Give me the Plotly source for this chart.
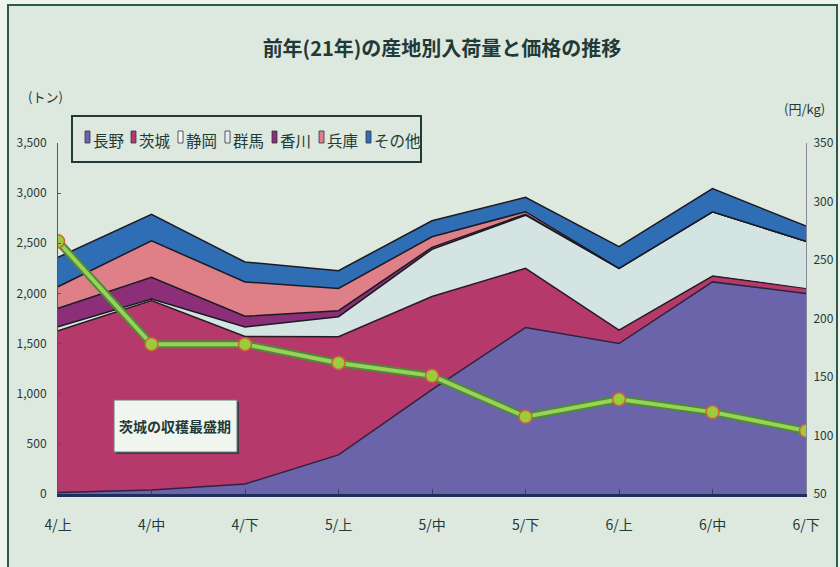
import plotly.graph_objects as go

categories = ["4/上", "4/中", "4/下", "5/上", "5/中", "5/下", "6/上", "6/中", "6/下"]
nagano   = [15, 40, 100, 390, 1040, 1660, 1500, 2115, 2000]
ibaraki  = [1613, 1890, 1470, 1178, 930, 590, 135, 58, 51]
shizuoka = [40, 15, 60, 80, 90, 60, 30, 20, 10]
gunma    = [0, 0, 35, 120, 380, 470, 585, 620, 460]
kagawa   = [183, 215, 107, 60, 20, 10, 0, 0, 0]
hyogo    = [216, 365, 342, 222, 105, 25, 0, 0, 0]
others   = [293, 263, 199, 177, 160, 143, 216, 233, 150]
price    = [266, 178, 178, 162, 151, 116, 131, 120, 104]

left_ticks = [0, 500, 1000, 1500, 2000, 2500, 3000, 3500]
left_ticktext = ["0", "500", "1,000", "1,500", "2,000", "2,500", "3,000", "3,500"]
right_ticks = [50, 100, 150, 200, 250, 300, 350]

BG = "#dde8df"
OUTER = "#eef3ee"
INK = "#1f3a37"
CJK = "Noto Sans CJK JP, sans-serif"
FONT = "Liberation Sans Narrow, Noto Sans CJK JP, sans-serif"
PALE = "#d3e4e2"

# name, values, fill colour, top-edge line colour, legend icon colour
series = [
    ("長野", nagano, "#6b64aa", "#2a2440", "#6b64aa"),
    ("茨城", ibaraki, "#b53a6b", "#2a1a22", "#b53a6b"),
    ("静岡", shizuoka, PALE, PALE, "#f4f7f4"),
    ("群馬", gunma, PALE, "#1a1a22", "#e6efee"),
    ("香川", kagawa, "#8c2f78", "#1a1a22", "#8c2f78"),
    ("兵庫", hyogo, "#df8088", "#1a1a22", "#df8088"),
    ("その他", others, "#2f6db5", "#1a1a22", "#2f6db5"),
]

fig = go.Figure()
for name, vals, fill, lc, _ in series:
    fig.add_trace(go.Scatter(
        x=categories, y=vals, name=name, mode="lines",
        stackgroup="one", fillcolor=fill,
        line=dict(color=lc, width=1.5), showlegend=False,
    ))

# price line (two layers for outlined look)
fig.add_trace(go.Scatter(
    x=categories, y=price, yaxis="y2", mode="lines",
    line=dict(color="#4f8a34", width=8), showlegend=False, hoverinfo="skip",
))
fig.add_trace(go.Scatter(
    x=categories, y=price, yaxis="y2", mode="lines+markers",
    line=dict(color="#98d25a", width=4),
    marker=dict(size=13, color="#9ccb3e", line=dict(color="#d0603a", width=1.5)),
    showlegend=False, name="価格",
))

W, H = 840, 567
L, R, T, B = 58, 34, 143, 73
pw, ph = W - L - R, H - T - B

def px_x(px):
    return (px - L) / pw

def px_y(py):
    return (H - B - py) / ph

annotations = [
    dict(text="(トン)", x=px_x(45), y=px_y(96), xref="paper", yref="paper",
         xanchor="center", yanchor="middle",
         showarrow=False, font=dict(size=13, color=INK, family=CJK)),
    dict(text="(円/kg)", x=px_x(804), y=px_y(108), xref="paper", yref="paper",
         xanchor="center", yanchor="middle",
         showarrow=False, font=dict(size=13, color=INK, family=CJK)),
    dict(text="<b>茨城の収穫最盛期</b>", x=px_x(175), y=px_y(426), xref="paper", yref="paper",
         xanchor="center", yanchor="middle",
         showarrow=False, font=dict(size=14, color=INK, family=CJK)),
]

shapes = [
    # outer frame
    dict(type="rect", xref="paper", yref="paper",
         x0=px_x(8), x1=px_x(837), y0=px_y(580), y1=px_y(5),
         line=dict(color="#2f5a4a", width=2), fillcolor=BG, layer="below"),
    # legend box
    dict(type="rect", xref="paper", yref="paper",
         x0=px_x(72), x1=px_x(421), y0=px_y(162), y1=px_y(116),
         line=dict(color=INK, width=2), fillcolor=BG, layer="above"),
    # annotation box shadow + box
    dict(type="rect", xref="paper", yref="paper",
         x0=px_x(116), x1=px_x(239), y0=px_y(454), y1=px_y(402),
         line=dict(width=0), fillcolor="#3a3a44", layer="above"),
    dict(type="rect", xref="paper", yref="paper",
         x0=px_x(114), x1=px_x(237), y0=px_y(452), y1=px_y(400),
         line=dict(color="#6a7a78", width=1), fillcolor="#f1f5ef", layer="above"),
]

icon_x = [85, 131, 178, 225, 272, 319, 366]
for (name, _, _, _, icol), ix in zip(series, icon_x):
    shapes.append(dict(type="rect", xref="paper", yref="paper",
                       x0=px_x(ix), x1=px_x(ix + 5), y0=px_y(143), y1=px_y(131),
                       line=dict(color="#334", width=0.8), fillcolor=icol, layer="above"))
    annotations.append(dict(text=name, x=px_x(ix + 6), y=px_y(140), xref="paper", yref="paper",
                            xanchor="left", yanchor="middle", showarrow=False,
                            font=dict(size=15.5, color=INK, family=CJK)))

fig.update_layout(
    width=W, height=H,
    margin=dict(l=L, r=R, t=T, b=B, autoexpand=False),
    paper_bgcolor=OUTER, plot_bgcolor="rgba(0,0,0,0)",
    font=dict(family=FONT, color=INK, size=13),
    showlegend=False,
    title=dict(
        text="<b>前年(21年)の産地別入荷量と価格の推移</b>",
        x=442 / W, xanchor="center", y=1 - 49 / H, yanchor="middle",
        font=dict(family=CJK, size=20, color=INK),
    ),
    xaxis=dict(
        type="category", range=[0, 8], showgrid=False, automargin=False,
        showline=True, linecolor="#1f2f5c", linewidth=3,
        ticks="inside", ticklen=5, tickcolor="#33445a",
        ticklabelstandoff=16, tickfont=dict(size=14, color=INK),
        zeroline=False,
    ),
    yaxis=dict(
        range=[0, 3500], tickvals=left_ticks, ticktext=left_ticktext,
        showgrid=False, zeroline=False, automargin=False,
        showline=True, linecolor="#556", linewidth=1,
        ticks="inside", ticklen=3, tickcolor="#556",
        ticklabelstandoff=8, tickfont=dict(size=12, color=INK),
    ),
    yaxis2=dict(
        range=[50, 350], tickvals=right_ticks, overlaying="y", side="right",
        showgrid=False, zeroline=False, automargin=False,
        showline=True, linecolor="#889", linewidth=1,
        ticks="", ticklabelstandoff=4, tickfont=dict(size=12, color=INK),
    ),
    annotations=annotations,
    shapes=shapes,
)

fig.write_html(
    "out.html",
    config={"displayModeBar": False},
    post_script="document.body.style.margin='0';document.body.style.padding='0';"
                "document.body.style.background='%s';" % OUTER,
)
